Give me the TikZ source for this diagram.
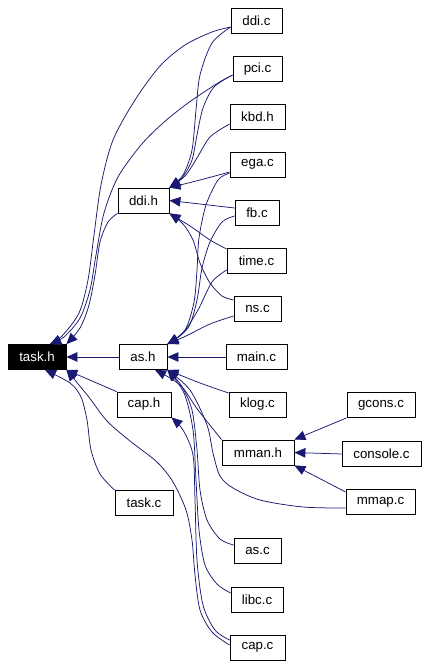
\documentclass[tikz,border=0pt]{standalone}
\usepackage{fontspec}
\setmainfont{Liberation Sans}
\usetikzlibrary{arrows.meta}
\definecolor{edgeblue}{HTML}{191970}
\begin{document}
\begin{tikzpicture}[x=1pt,y=-1pt,
  box/.style={draw=black, line width=0.8pt, fill=white, minimum height=25pt, inner sep=0pt,
    font=\fontsize{13.3}{15}\selectfont},
  edge/.style={draw=edgeblue, line width=0.75pt, -{Triangle[length=11pt,width=9.5pt]}}]
\useasboundingbox (0,0) rectangle (428,666);
% nodes
\node[box, minimum width=51pt] (ddic) at (256.5,20.5) {ddi.c};
\node[box, minimum width=49pt] (pcic) at (257.5,69) {pci.c};
\node[box, minimum width=55pt] (kbdh) at (257.5,116.5) {kbd.h};
\node[box, minimum width=55pt] (egac) at (257.5,164.5) {ega.c};
\node[box, minimum width=44pt] (fbc) at (257,212.5) {fb.c};
\node[box, minimum width=59pt] (timec) at (256.5,260.5) {time.c};
\node[box, minimum width=47pt] (nsc) at (257.5,308.5) {ns.c};
\node[box, minimum width=61pt] (mainc) at (256.5,357) {main.c};
\node[box, minimum width=57pt] (klogc) at (257.5,404.5) {klog.c};
\node[box, minimum width=68pt] (gconsc) at (381,405) {gcons.c};
\node[box, minimum width=72pt] (mmanh) at (258,452.5) {mman.h};
\node[box, minimum width=79pt] (consolec) at (381.5,454) {console.c};
\node[box, minimum width=69pt] (mmapc) at (380.5,502) {mmap.c};
\node[box, minimum width=47pt] (asc) at (257.5,551) {as.c};
\node[box, minimum width=52pt] (libcc) at (257,599.5) {libc.c};
\node[box, minimum width=55pt] (capc) at (257.5,647.5) {cap.c};
\node[box, minimum width=58pt, fill=black, text=white] (taskh) at (37,357) {task.h};
\node[box, minimum width=48pt] (ash) at (143,357) {as.h};
\node[box, minimum width=51pt] (ddih) at (143.5,200.5) {ddi.h};
\node[box, minimum width=54pt] (caph) at (144,404.5) {cap.h};
\node[box, minimum width=58pt] (taskc) at (144,503) {task.c};
% edges to task.h
\draw[edge] plot[smooth] coordinates {([yshift=-6.5pt]ddic.west) (212,32) (185,45) (160,66) (135,100) (113,140) (101,185) (94,235) (88,280) (79,313) (62,336) ([xshift=13pt]taskh.north)};
\draw[edge] plot[smooth] coordinates {([yshift=-6pt]pcic.west) (218,83) (188,103) (163,123) (141,145) (118,177) (104,213) (96,255) (90,290) (80,318) (64,337) ([xshift=13pt]taskh.north)};
\draw[edge] plot[smooth] coordinates {(ddih.south west) (108,222) (100,242) (95,275) (89,305) (80,328) (taskh.north east)};
\draw[edge] (ash) -- (taskh);
\draw[edge] (caph.north west) -- (taskh.south east);
\draw[edge] plot[smooth] coordinates {(taskc.north west) (100,474) (91,450) (87,420) (81,397) (70,383) ([xshift=8pt]taskh.south)};
\draw[edge] plot[smooth] coordinates {([yshift=2.5pt]capc.west) (212,632) (200,610) (195,575) (192,540) (186,510) (173,482) (157,462) (130,441) (107,421) (88,396) (taskh.south east)};
% edges to ddi.h
\draw[edge] plot[smooth] coordinates {([yshift=-6.5pt]ddic.west) (212,43) (200,75) (196,110) (192,150) (183,175) (ddih.north east)};
\draw[edge] plot[smooth] coordinates {([yshift=-6pt]pcic.west) (214,87) (203,108) (197,135) (192,160) (182,178) (ddih.north east)};
\draw[edge] plot[smooth] coordinates {([yshift=-7.5pt]kbdh.west) (210,137) (197,158) (185,176) (ddih.north east)};
\draw[edge] plot[smooth] coordinates {([yshift=-7.5pt]egac.west) (200,180) (ddih.north east)};
\draw[edge] ([yshift=4.5pt]fbc.west) -- (ddih.east);
\draw[edge] plot[smooth] coordinates {([yshift=11.5pt]timec.west) (210,240) (190,226) (ddih.south east)};
\draw[edge] plot[smooth] coordinates {([yshift=8.5pt]nsc.west) (222,296) (210,283) (200,263) (193,240) (183,224) (ddih.south east)};
% edges to as.h
\draw[edge] plot[smooth] coordinates {([yshift=-8.5pt]egac.west) (218,180) (206,205) (199,238) (197,270) (194,302) (185,330) (ash.north east)};
\draw[edge] plot[smooth] coordinates {([yshift=-3.5pt]fbc.west) (222,222) (210,242) (202,268) (197,300) (188,328) (ash.north east)};
\draw[edge] plot[smooth] coordinates {([yshift=-9.5pt]timec.west) (212,282) (198,310) (183,333) (ash.north east)};
\draw[edge] plot[smooth] coordinates {([yshift=-7.5pt]nsc.west) (210,324) (186,336) (ash.north east)};
\draw[edge] (mainc) -- (ash);
\draw[edge] plot[smooth] coordinates {([yshift=11.5pt]klogc.west) (200,383) (ash.south east)};
\draw[edge] plot[smooth] coordinates {(mmanh.north west) (198,410) (183,388) (170,378) ([xshift=12pt]ash.south)};
\draw[edge] plot[smooth] coordinates {([yshift=-6pt]mmapc.west) (303,507) (260,500) (233,488) (220,476) (213,453) (207,425) (190,390) (ash.south east)};
\draw[edge] plot[smooth] coordinates {([yshift=6pt]asc.west) (220,539) (207,520) (200,490) (197,450) (192,410) (181,385) (ash.south east)};
\draw[edge] plot[smooth] coordinates {([yshift=6.5pt]libcc.west) (217,584) (205,565) (199,530) (196,480) (193,430) (184,393) (ash.south east)};
% edge to cap.h
\draw[edge] plot[smooth] coordinates {([yshift=7.5pt]capc.west) (215,630) (203,605) (197,560) (195,500) (193,455) (183,430) (caph.south east)};
% edges to mman.h
\draw[edge] (gconsc.south west) -- (mmanh.north east);
\draw[edge] (consolec.west) -- (mmanh.east);
\draw[edge] ([yshift=10pt]mmapc.west) -- (mmanh.south east);
\end{tikzpicture}
\end{document}
